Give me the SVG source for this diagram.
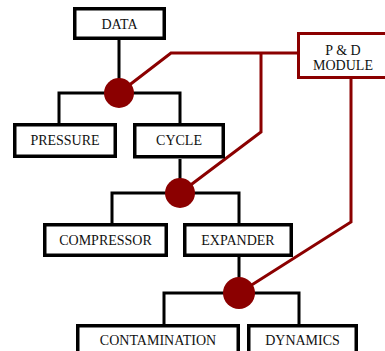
<svg xmlns="http://www.w3.org/2000/svg" width="385" height="351" viewBox="0 0 385 351">
<style>
.box{fill:#fff;stroke:#000;stroke-width:3.5}
.pd{fill:#fff;stroke:#8b0000;stroke-width:3}
.ln{fill:none;stroke:#000;stroke-width:3}
.rl{fill:none;stroke:#8b0000;stroke-width:3}
.dot{fill:#8b0000}
text{font-family:"Liberation Serif","Times New Roman",serif;font-size:14px;fill:#111;text-anchor:middle}
</style>
<rect width="385" height="351" fill="#fff"/>
<g id="connectors">
<path class="ln" d="M119,40V93M59,123V93H180V123M180,159V193M112,223V193H239V223M239,257V293M164,324V293H299V324"/>
<polyline class="rl" points="119,93 171,53 298,53"/>
<polyline class="rl" points="261,53 261,132 180,193"/>
<polyline class="rl" points="351,79 351,222 239,293"/>
<circle class="dot" cx="119" cy="93" r="15"/>
<circle class="dot" cx="180" cy="193" r="15"/>
<circle class="dot" cx="239" cy="293" r="16"/>
</g>
<g id="data"><rect class="box" x="74.75" y="8.75" width="89.5" height="29.5"/><text x="119.5" y="29">DATA</text></g>
<g id="pd-module"><rect class="pd" x="298.5" y="33.5" width="95" height="44"/><text x="343" y="55">P &amp; D</text><text x="343" y="70">MODULE</text></g>
<g id="pressure"><rect class="box" x="14.75" y="124.75" width="100.5" height="31.5"/><text x="65" y="145">PRESSURE</text></g>
<g id="cycle"><rect class="box" x="134.75" y="124.75" width="88.5" height="32"/><text x="179" y="145">CYCLE</text></g>
<g id="compressor"><rect class="box" x="44.75" y="224.75" width="121.5" height="30.5"/><text x="105.5" y="245">COMPRESSOR</text></g>
<g id="expander"><rect class="box" x="184.75" y="224.75" width="106.5" height="30.5"/><text x="238" y="245">EXPANDER</text></g>
<g id="contamination"><rect class="box" x="77.75" y="325.75" width="160.5" height="40"/><text x="158" y="345">CONTAMINATION</text></g>
<g id="dynamics"><rect class="box" x="248.75" y="325.75" width="107.5" height="40"/><text x="302.5" y="345">DYNAMICS</text></g>
</svg>
